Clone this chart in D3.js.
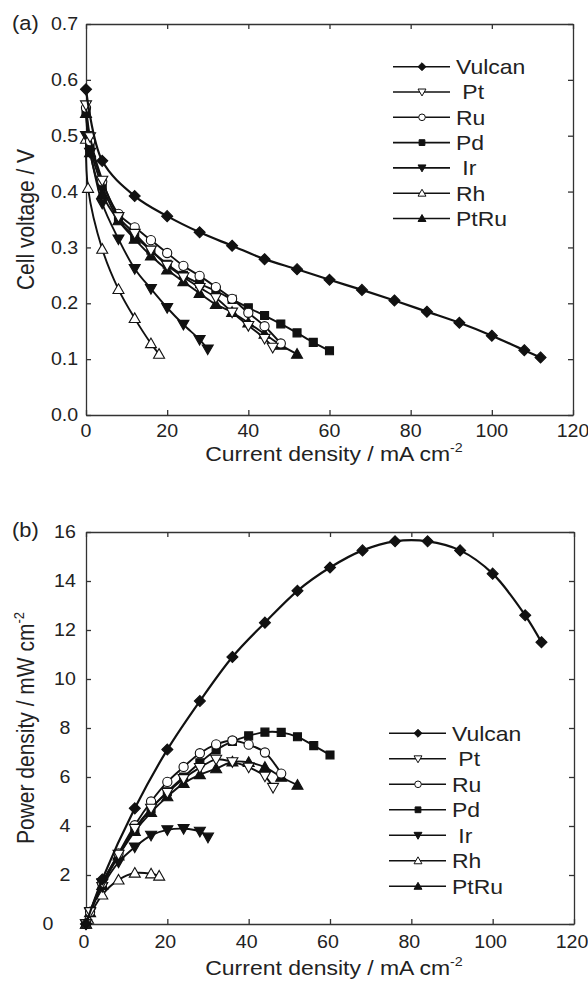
<!DOCTYPE html>
<html><head><meta charset="utf-8">
<script src="https://cdn.jsdelivr.net/npm/d3@7"></script>
<style>body{margin:0;background:#fff}svg{display:block}text{font-family:"Liberation Sans",Arial,sans-serif;fill:#222}</style>
</head><body>
<script>
// ---------- data ----------
const seriesNames = ["Vulcan", "Pt", "Ru", "Pd", "Ir", "Rh", "PtRu"];
const legendLabels = ["Vulcan", " Pt", "Ru", "Pd", " Ir", "Rh", "PtRu"];
const markerShapes = ["diamond", "triDown", "circle", "square", "triDown", "triUp", "triUp"];
const markerOpen = [false, true, true, false, false, true, false];

const xVulcan = [0, 4, 12, 20, 28, 36, 44, 52, 60, 68, 76, 84, 92, 100, 108, 112];
const vVulcan = [0.583, 0.455, 0.392, 0.356, 0.327, 0.303, 0.279, 0.261, 0.242, 0.224, 0.205, 0.185, 0.165, 0.142, 0.116, 0.103];
const pVulcan = [0, 1.82, 4.72, 7.12, 9.1, 10.9, 12.3, 13.6, 14.55, 15.25, 15.62, 15.62, 15.25, 14.3, 12.6, 11.5];

const xPt = [0, 1, 4, 8, 12, 16, 20, 24, 28, 32, 36, 40, 44, 46];
const vPt = [0.555, 0.498, 0.42, 0.355, 0.325, 0.295, 0.268, 0.247, 0.228, 0.21, 0.184, 0.16, 0.137, 0.121];
const pPt = [0, 0.5, 1.68, 2.84, 3.9, 4.72, 5.36, 5.93, 6.38, 6.72, 6.62, 6.4, 6.03, 5.57];

const xRu = [0, 1, 4, 8, 12, 16, 20, 24, 28, 32, 36, 40, 44, 48];
const vRu = [0.55, 0.49, 0.418, 0.36, 0.336, 0.313, 0.29, 0.267, 0.249, 0.229, 0.208, 0.183, 0.159, 0.128];
const pRu = [0, 0.49, 1.67, 2.88, 4.03, 5.0, 5.8, 6.41, 6.97, 7.33, 7.49, 7.32, 7.0, 6.14];

const xPd = [0, 1, 4, 8, 12, 16, 20, 24, 28, 32, 36, 40, 44, 48, 52, 56, 60];
const vPd = [0.545, 0.48, 0.41, 0.35, 0.32, 0.295, 0.27, 0.25, 0.235, 0.222, 0.207, 0.192, 0.178, 0.163, 0.147, 0.13, 0.115];
const pPd = [0, 0.48, 1.64, 2.8, 3.84, 4.72, 5.4, 6.0, 6.58, 7.1, 7.45, 7.68, 7.83, 7.82, 7.64, 7.28, 6.9];

const xIr = [0, 1, 4, 8, 12, 16, 20, 24, 28, 30];
const vIr = [0.50, 0.47, 0.379, 0.315, 0.262, 0.226, 0.192, 0.162, 0.135, 0.118];
const pIr = [0, 0.47, 1.52, 2.52, 3.14, 3.62, 3.84, 3.89, 3.78, 3.54];

const xRh = [0, 0.5, 4, 8, 12, 16, 18];
const vRh = [0.494, 0.406, 0.297, 0.225, 0.173, 0.128, 0.109];
const pRh = [0, 0.2, 1.19, 1.8, 2.08, 2.05, 1.96];

const xPtRu = [0, 1, 4, 8, 12, 16, 20, 24, 28, 32, 36, 40, 44, 48, 52];
const vPtRu = [0.54, 0.47, 0.395, 0.348, 0.315, 0.285, 0.26, 0.239, 0.218, 0.198, 0.184, 0.165, 0.145, 0.125, 0.109];
const pPtRu = [0, 0.47, 1.58, 2.78, 3.78, 4.56, 5.2, 5.74, 6.1, 6.34, 6.62, 6.6, 6.4, 6.0, 5.67];

const xTicks = [0, 20, 40, 60, 80, 100, 120];
const yTicksA = [0, 0.1, 0.2, 0.3, 0.4, 0.5, 0.6, 0.7];
const yTickLabelsA = ["0.0", "0.1", "0.2", "0.3", "0.4", "0.5", "0.6", "0.7"];
const yTicksB = [0, 2, 4, 6, 8, 10, 12, 14, 16];
const yTickLabelsB = ["0", "2", "4", "6", "8", "10", "12", "14", "16"];

const xData = [xVulcan, xPt, xRu, xPd, xIr, xRh, xPtRu];
const vData = [vVulcan, vPt, vRu, vPd, vIr, vRh, vPtRu];
const pData = [pVulcan, pPt, pRu, pPd, pIr, pRh, pPtRu];

// ---------- drawing ----------
const W = 588, H = 982, SX = 1.12;
const svg = d3.select("body").append("svg").attr("width", W).attr("height", H);

function addText(g, x, y, str, size, anchor, rot, sup) {
  const t = g.append("text")
    .attr("transform", rot ? `translate(${x},${y}) rotate(-90) scale(1,${SX})` : `translate(${x},${y}) scale(${SX},1)`)
    .attr("text-anchor", anchor)
    .style("font-size", size + "px");
  t.append("tspan").text(str);
  if (sup) t.append("tspan").attr("dy", -size * 0.42).style("font-size", (size * 0.62) + "px").text(sup);
  return t;
}

function shapePath(type, r) {
  switch (type) {
    case "diamond": return `M0,${-r}L${r},0L0,${r}L${-r},0Z`;
    case "square": return `M${-r},${-r}h${2 * r}v${2 * r}h${-2 * r}Z`;
    case "triUp": return `M0,${-r}L${r},${r * 0.75}L${-r},${r * 0.75}Z`;
    case "triDown": return `M0,${r}L${r},${-r * 0.75}L${-r},${-r * 0.75}Z`;
    case "circle": return `M${r},0A${r},${r} 0 1,1 ${-r},0A${r},${r} 0 1,1 ${r},0Z`;
  }
}
const markerR = { diamond: 5.5, square: 4, triUp: 5.5, triDown: 5.5, circle: 4.6 };

function panel(opts) {
  const { x, y, yTicks, yLabels, yData, label, labelY, yTitle, legendX, legendY, legendStep, xLabelShift, yLabelX, zeroLabelX, xTitleY } = opts;
  const g = svg.append("g");
  const [x0, x1] = x.range(), [y0, y1] = y.range();
  // ticks via axes, inward
  g.append("g").attr("transform", `translate(0,${y0})`).call(d3.axisBottom(x).tickValues(xTicks).tickSize(-5).tickSizeOuter(0).tickFormat(""));
  g.append("g").attr("transform", `translate(0,${y1})`).call(d3.axisTop(x).tickValues(xTicks).tickSize(-5).tickSizeOuter(0).tickFormat(""));
  g.append("g").attr("transform", `translate(${x0},0)`).call(d3.axisLeft(y).tickValues(yTicks).tickSize(-5).tickSizeOuter(0).tickFormat(""));
  g.append("g").attr("transform", `translate(${x1},0)`).call(d3.axisRight(y).tickValues(yTicks).tickSize(-5).tickSizeOuter(0).tickFormat(""));
  g.selectAll(".domain, .tick line").attr("stroke", "#333").attr("stroke-width", 1.3);

  // tick labels
  xTicks.forEach(v => addText(g, x(v) + xLabelShift, y0 + opts.xLabelDy, String(v), 17.5, "middle"));
  yTicks.forEach((v, i) => {
    const lx = (i === 0 && zeroLabelX) ? zeroLabelX : yLabelX;
    addText(g, lx, y(v) + 6.2, yLabels[i], 17.5, "middle");
  });

  // titles
  addText(g, 334, xTitleY, "Current density / mA cm", 20.5, "middle", false, "-2");
  addText(g, 34, (y0 + y1) / 2, yTitle[0], 21, "middle", true, yTitle[1]);
  addText(g, 12, labelY, label, 19.5, "start");

  // series
  const line = d3.line().x(d => x(d[0])).y(d => y(d[1])).curve(d3.curveCatmullRom.alpha(0.5));
  const plot = g.append("g");
  for (let s = seriesNames.length - 1; s >= 0; s--) {
    const pts = xData[s].map((xv, i) => [xv, yData[s][i]]);
    plot.append("path").attr("d", line(pts)).attr("fill", "none").attr("stroke", "#111").attr("stroke-width", s === 0 ? 2.2 : 1.9);
    plot.selectAll(null).data(pts).enter().append("path")
      .attr("transform", d => `translate(${x(d[0])},${y(d[1])})`)
      .attr("d", shapePath(markerShapes[s], markerR[markerShapes[s]]))
      .attr("fill", markerOpen[s] ? "#fff" : "#111")
      .attr("stroke", "#111").attr("stroke-width", 1.1);
  }

  // legend
  const lg = g.append("g");
  seriesNames.forEach((n, i) => {
    const cy = legendY + i * legendStep;
    lg.append("line").attr("x1", legendX).attr("x2", legendX + 57).attr("y1", cy).attr("y2", cy).attr("stroke", "#111").attr("stroke-width", 1.6);
    lg.append("path").attr("transform", `translate(${legendX + 29},${cy})`)
      .attr("d", shapePath(markerShapes[i], markerR[markerShapes[i]] * 0.72))
      .attr("fill", markerOpen[i] ? "#fff" : "#111").attr("stroke", "#111").attr("stroke-width", 1);
    addText(lg, legendX + 63, cy + 7.4, legendLabels[i], 20.5, "start").style("white-space", "pre").attr("xml:space", "preserve");
  });
}

panel({
  x: d3.scaleLinear().domain([0, 120]).range([86, 573]),
  y: d3.scaleLinear().domain([0, 0.7]).range([415, 24]),
  yTicks: yTicksA, yLabels: yTickLabelsA, yData: vData,
  label: "(a)", labelY: 30, yTitle: ["Cell voltage / V", null],
  legendX: 393, legendY: 66.7, legendStep: 25.3, xLabelShift: 0, xLabelDy: 22,
  yLabelX: 64.5, zeroLabelX: null, xTitleY: 461
});
panel({
  x: d3.scaleLinear().domain([0, 120]).range([86, 574]),
  y: d3.scaleLinear().domain([0, 16]).range([924, 532]),
  yTicks: yTicksB, yLabels: yTickLabelsB, yData: pData,
  label: "(b)", labelY: 537, yTitle: ["Power density / mW cm", "-2"],
  legendX: 389, legendY: 733.3, legendStep: 25.5, xLabelShift: -2, xLabelDy: 24,
  yLabelX: 65, zeroLabelX: 48, xTitleY: 975
});
</script>
</body></html>
